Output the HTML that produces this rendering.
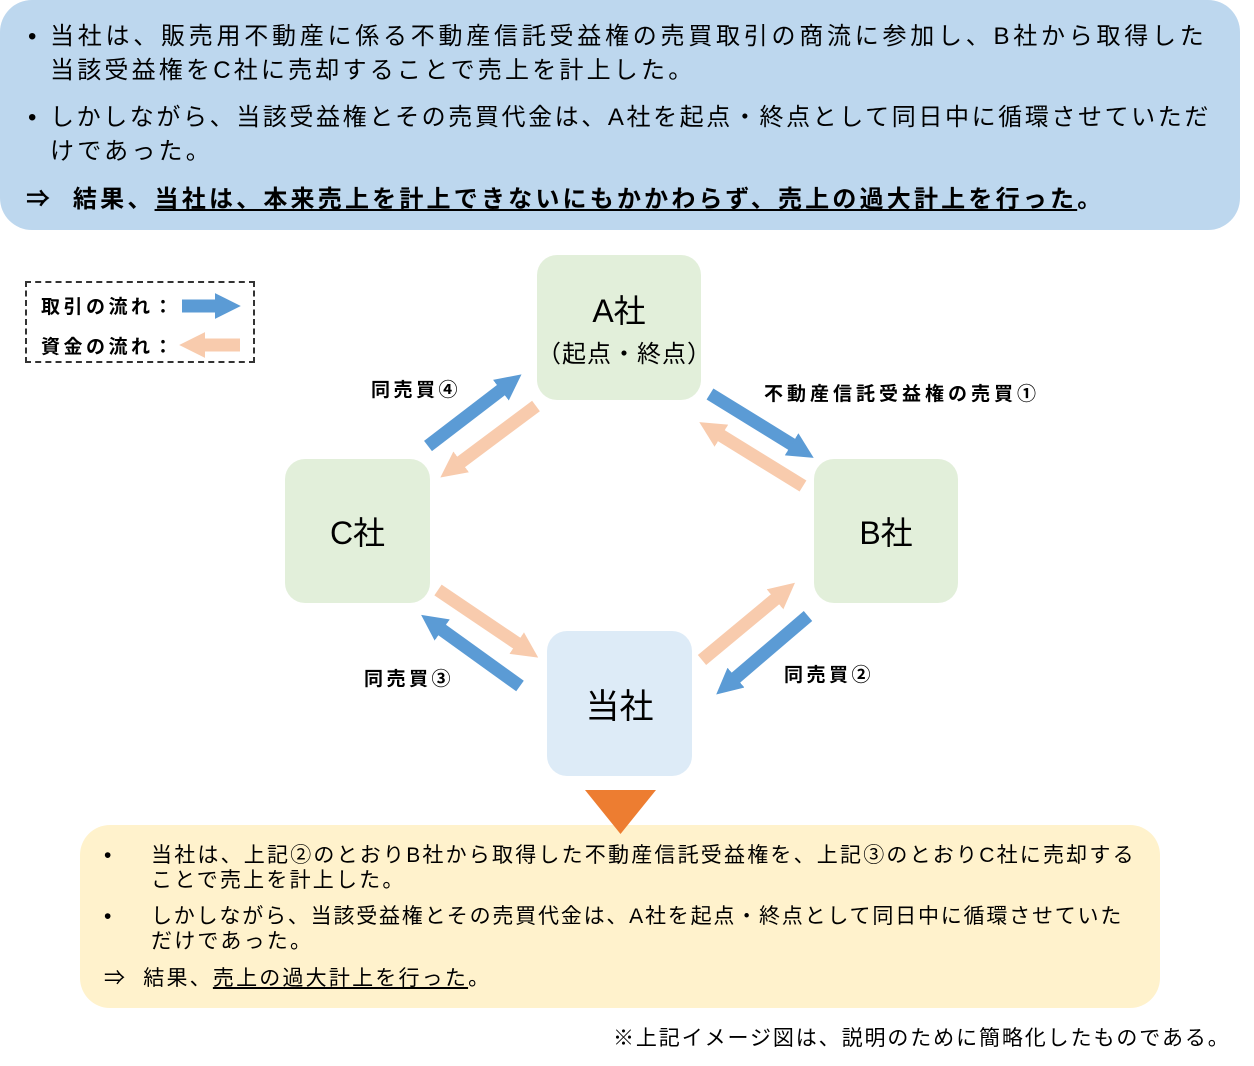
<!DOCTYPE html>
<html><head><meta charset="utf-8"><style>
body{margin:0;width:1254px;height:1066px;background:#fff;position:relative;font-family:"Liberation Sans","Noto Sans CJK JP",sans-serif;color:#000;overflow:hidden}
.abs{position:absolute}
.top{left:0;top:0;width:1240px;height:230px;background:#bdd7ee;border-radius:32px}
.t{position:absolute;font-size:24px;line-height:34px;white-space:nowrap;letter-spacing:3.2px}
.node{position:absolute;border-radius:20px;display:flex;align-items:center;justify-content:center;flex-direction:column;font-size:32px}
.g{background:#e2efda}
.bot{left:80px;top:825px;width:1080px;height:183px;background:#fff2cc;border-radius:30px}
.b{position:absolute;font-size:21px;line-height:25px;white-space:nowrap;letter-spacing:2.2px}
.lbl{position:absolute;font-size:19px;font-weight:bold;white-space:nowrap;letter-spacing:3.5px}
</style></head><body>
<div class="abs top"></div>
<div class="t" style="left:28px;top:20px">•</div>
<div class="t" style="left:50px;top:20px;letter-spacing:3.75px">当社は、販売用不動産に係る不動産信託受益権の売買取引の商流に参加し、B社から取得した</div>
<div class="t" style="left:50px;top:54px">当該受益権をC社に売却することで売上を計上した。</div>
<div class="t" style="left:28px;top:101px">•</div>
<div class="t" style="left:50px;top:101px;letter-spacing:2.6px">しかしながら、当該受益権とその売買代金は、A社を起点・終点として同日中に循環させていただ</div>
<div class="t" style="left:50px;top:135px">けであった。</div>
<div class="t" style="left:26px;top:183px;font-weight:bold">⇒&nbsp;&nbsp;結果、<u>当社は、本来売上を計上できないにもかかわらず、売上の過大計上を行った</u>。</div>

<div class="abs" style="left:25px;top:281px;width:230px;height:82px;border:2px dashed #333;box-sizing:border-box"></div>
<div class="lbl" style="left:41px;top:292px">取引の流れ：</div>
<div class="lbl" style="left:41px;top:332px">資金の流れ：</div>

<div class="node g" style="left:537px;top:255px;width:164px;height:145px"><div>A社</div><div style="font-size:24px;margin-top:2px;letter-spacing:1px">（起点・終点）</div></div>
<div class="node g" style="left:285px;top:459px;width:145px;height:144px">C社</div>
<div class="node g" style="left:814px;top:459px;width:144px;height:144px">B社</div>
<div class="node" style="left:547px;top:631px;width:145px;height:145px;background:#ddebf7;font-size:34px">当社</div>

<div class="lbl" style="left:371px;top:375px">同売買④</div>
<div class="lbl" style="left:764px;top:379px;letter-spacing:4px">不動産信託受益権の売買①</div>
<div class="lbl" style="left:364px;top:664px">同売買③</div>
<div class="lbl" style="left:784px;top:660px">同売買②</div>

<svg class="abs" style="left:0;top:0" width="1254" height="1066">
<defs>
<marker id="hb" viewBox="0 0 10 10" refX="2" refY="5" markerWidth="2" markerHeight="2" orient="auto"><path d="M0,0L10,5L0,10z" fill="#5b9bd5"/></marker>
<marker id="ho" viewBox="0 0 10 10" refX="2" refY="5" markerWidth="2" markerHeight="2" orient="auto"><path d="M0,0L10,5L0,10z" fill="#f8cbad"/></marker>
</defs>
<g stroke-width="13" fill="none">
<line x1="182" y1="306" x2="220" y2="306" stroke="#5b9bd5" marker-end="url(#hb)"/>
<line x1="240" y1="345" x2="200" y2="345" stroke="#f8cbad" marker-end="url(#ho)"/>
<line x1="428" y1="446" x2="505" y2="387" stroke="#5b9bd5" marker-end="url(#hb)"/>
<line x1="536" y1="406" x2="457" y2="465" stroke="#f8cbad" marker-end="url(#ho)"/>
<line x1="710" y1="394" x2="796" y2="447" stroke="#5b9bd5" marker-end="url(#hb)"/>
<line x1="803" y1="486" x2="717" y2="433" stroke="#f8cbad" marker-end="url(#ho)"/>
<line x1="702" y1="660" x2="779" y2="596" stroke="#f8cbad" marker-end="url(#ho)"/>
<line x1="808" y1="616" x2="732" y2="681" stroke="#5b9bd5" marker-end="url(#hb)"/>
<line x1="438" y1="590" x2="521" y2="646" stroke="#f8cbad" marker-end="url(#ho)"/>
<line x1="520" y1="686" x2="438" y2="627" stroke="#5b9bd5" marker-end="url(#hb)"/>
</g>
</svg>

<div class="abs bot"></div>
<svg class="abs" style="left:585px;top:790px" width="71" height="44"><path d="M0,0H71L35.5,44z" fill="#ed7d31"/></svg>
<div class="b" style="left:104px;top:843px">•</div>
<div class="b" style="left:151px;top:843px">当社は、上記②のとおりB社から取得した不動産信託受益権を、上記③のとおりC社に売却する</div>
<div class="b" style="left:151px;top:868px">ことで売上を計上した。</div>
<div class="b" style="left:104px;top:904px">•</div>
<div class="b" style="left:151px;top:904px;letter-spacing:1.8px">しかしながら、当該受益権とその売買代金は、A社を起点・終点として同日中に循環させていた</div>
<div class="b" style="left:151px;top:929px">だけであった。</div>
<div class="b" style="left:104px;top:966px">⇒&nbsp;&nbsp;結果、<u>売上の過大計上を行った</u>。</div>
<div class="b" style="left:613px;top:1026px;letter-spacing:1.9px">※上記イメージ図は、説明のために簡略化したものである。</div>
</body></html>
